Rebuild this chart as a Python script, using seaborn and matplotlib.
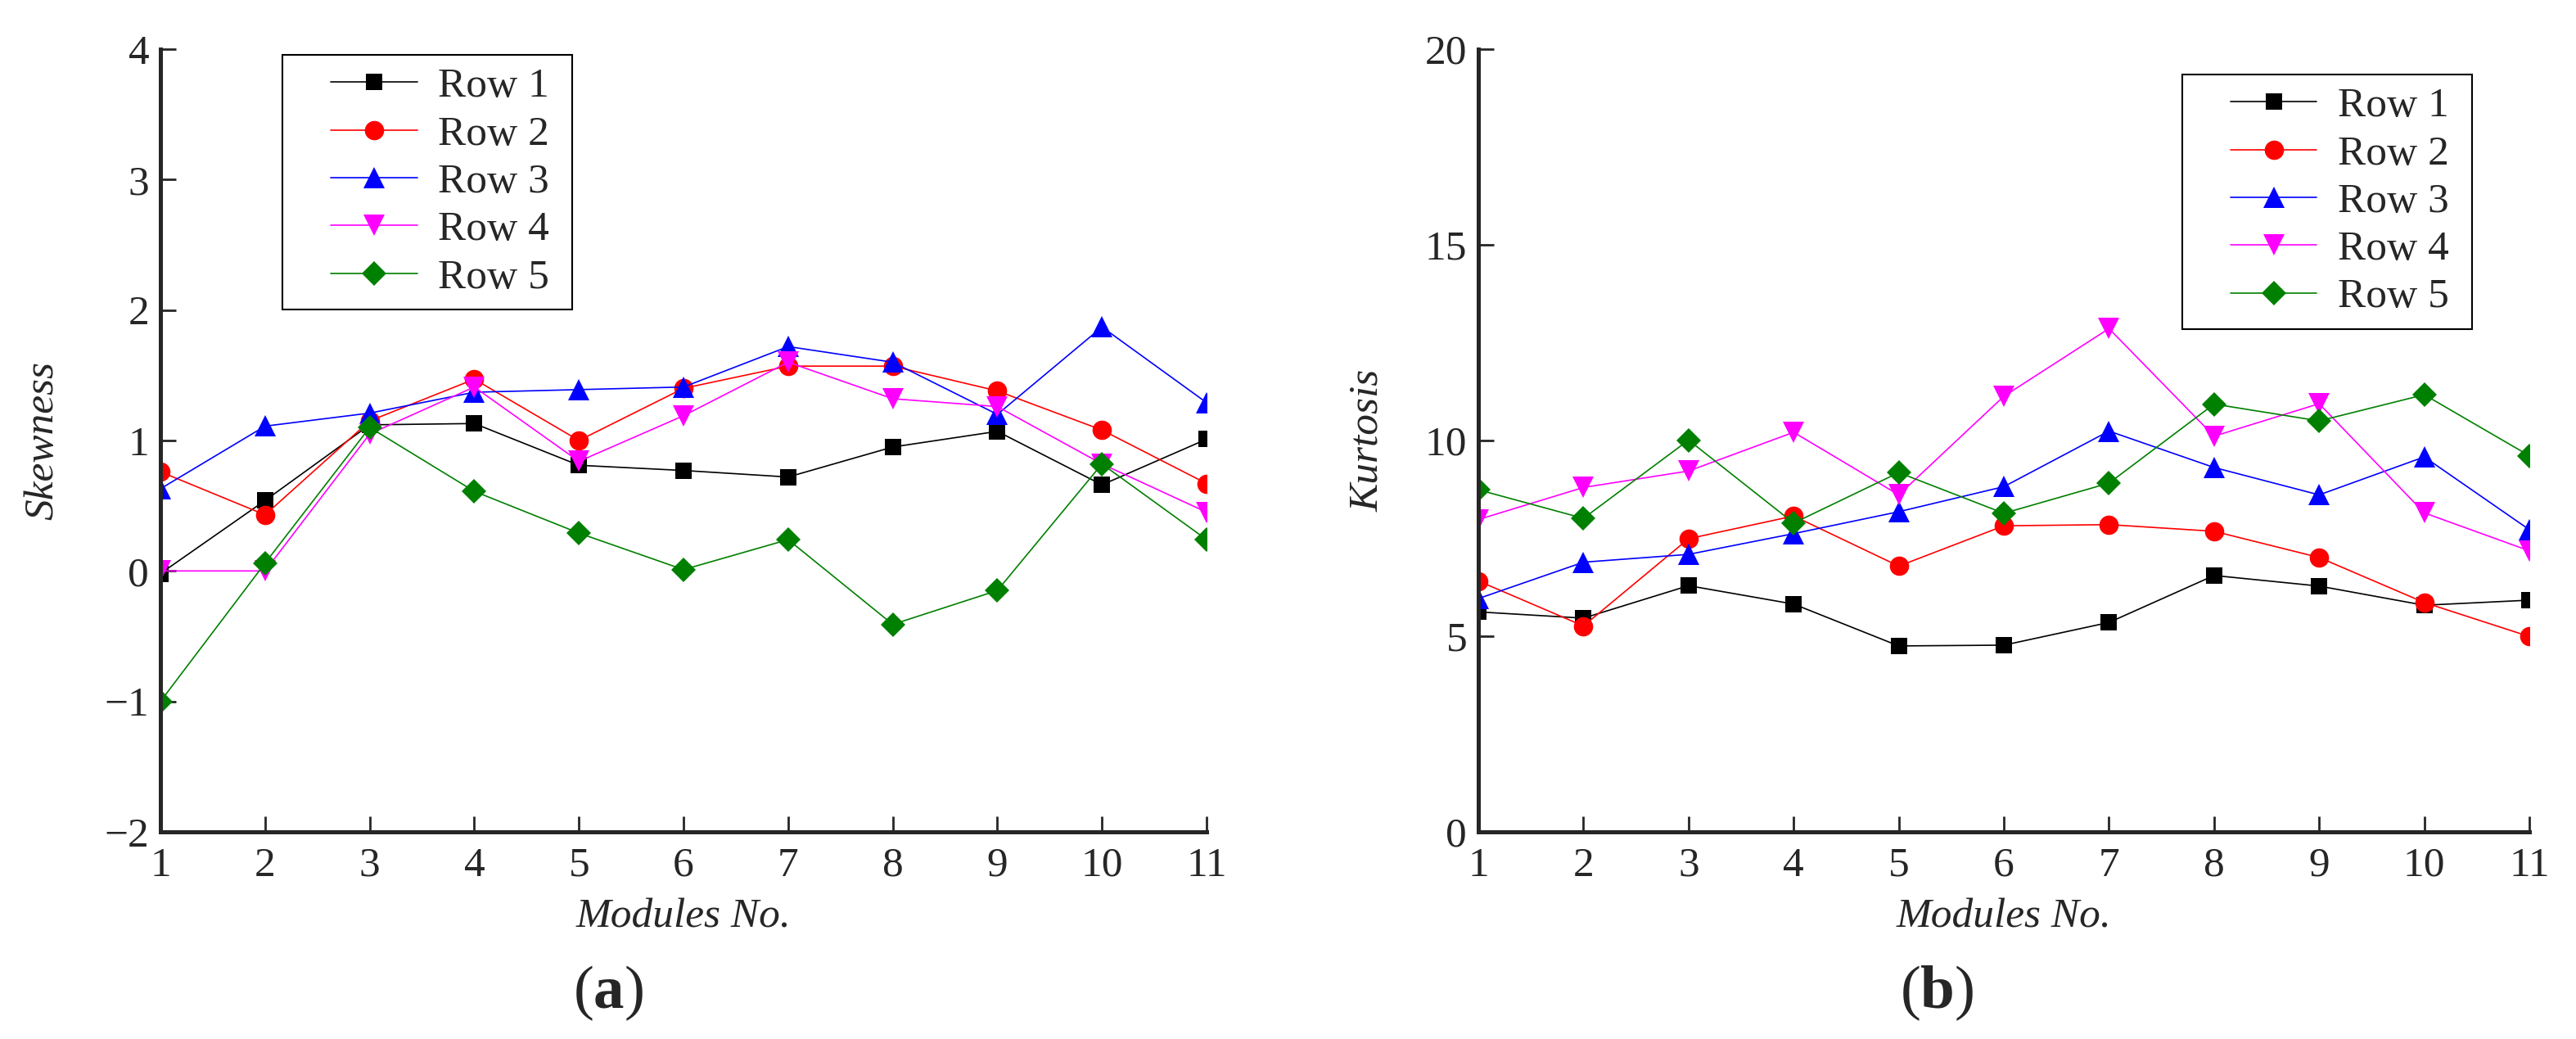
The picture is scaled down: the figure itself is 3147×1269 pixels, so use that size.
"""
Skewness / Kurtosis per module, rows 1-5
"""
import matplotlib
matplotlib.use('Agg')
import matplotlib.pyplot as plt
from matplotlib.lines import Line2D
from matplotlib.legend_handler import HandlerLine2D
import seaborn as sns
import pandas as pd

modules = list(range(1, 11 + 1))
rows = ['Row 1', 'Row 2', 'Row 3', 'Row 4', 'Row 5']

skew_row1 = [-0.02, 0.54, 1.12, 1.13, 0.81, 0.77, 0.72, 0.95, 1.07, 0.66, 1.01]
skew_row2 = [0.76, 0.43, 1.15, 1.47, 1.00, 1.40, 1.57, 1.57, 1.38, 1.08, 0.67]
skew_row3 = [0.63, 1.11, 1.21, 1.37, 1.39, 1.41, 1.72, 1.60, 1.20, 1.87, 1.29]
skew_row4 = [0.00, 0.00, 1.05, 1.41, 0.84, 1.19, 1.60, 1.32, 1.26, 0.82, 0.45]
skew_row5 = [-1.00, 0.06, 1.10, 0.61, 0.29, 0.01, 0.24, -0.41, -0.15, 0.82, 0.24]

kurt_row1 = [5.62, 5.46, 6.29, 5.82, 4.75, 4.77, 5.35, 6.55, 6.28, 5.79, 5.92]
kurt_row2 = [6.41, 5.26, 7.49, 8.07, 6.79, 7.82, 7.85, 7.68, 7.01, 5.86, 4.99]
kurt_row3 = [5.96, 6.89, 7.09, 7.62, 8.18, 8.82, 10.24, 9.31, 8.61, 9.58, 7.72]
kurt_row4 = [7.98, 8.80, 9.22, 10.21, 8.61, 11.13, 12.86, 10.11, 10.94, 8.15, 7.18]
kurt_row5 = [8.74, 8.01, 10.01, 7.89, 9.18, 8.14, 8.91, 10.93, 10.50, 11.17, 9.61]

colors = ['#000000', '#FF0000', '#0000FF', '#FF00FF', '#008000']
markers = ['s', 'o', '^', 'v', 'D']
msizes = [14.5, 17, 19, 19, 15]

sns.set_style('ticks')
plt.rcParams['font.family'] = ['Liberation Serif', 'DejaVu Serif']
plt.rcParams['mathtext.fontset'] = 'custom'
plt.rcParams['mathtext.rm'] = 'Liberation Serif'
plt.rcParams['mathtext.bf'] = 'Liberation Serif:bold'
plt.rcParams['axes.unicode_minus'] = True

FS = 37

fig = plt.figure(figsize=(31.47, 12.69), dpi=100)
ax1 = fig.add_axes([0.0623, 0.1994, 0.4061, 0.7533])
ax2 = fig.add_axes([0.5739, 0.1994, 0.4080, 0.7533])


def draw(ax, series, ylim, yticks, ylabel):
    for name, vals, c, m, ms in zip(rows, series, colors, markers, msizes):
        df = pd.DataFrame({'x': modules, 'y': vals})
        sns.lineplot(data=df, x='x', y='y', ax=ax, color=c, marker=m,
                     markersize=ms, markeredgewidth=0, linewidth=1.2,
                     label=name + ' ')
    ax.set_xlim(1, 11)
    ax.set_ylim(*ylim)
    ax.set_xticks(modules)
    ax.set_yticks(yticks)
    ax.tick_params(direction='in', length=14, width=2, labelsize=FS)
    ax.tick_params(axis='x', pad=13)
    ax.tick_params(axis='y', pad=10)
    for s in ['top', 'right']:
        ax.spines[s].set_visible(False)
    for s in ['left', 'bottom']:
        ax.spines[s].set_linewidth(3.6)
        ax.spines[s].set_zorder(5)
    ax.set_xlabel('Modules No.', fontsize=FS, style='italic')
    ax.set_ylabel(ylabel, fontsize=FS, style='italic')
    ax.xaxis.set_label_coords(0.5, -0.085)


draw(ax1, [skew_row1, skew_row2, skew_row3, skew_row4, skew_row5],
     (-2, 4), [-2, -1, 0, 1, 2, 3, 4], 'Skewness')
draw(ax2, [kurt_row1, kurt_row2, kurt_row3, kurt_row4, kurt_row5],
     (0, 20), [0, 5, 10, 15, 20], 'Kurtosis')

ax1.yaxis.set_label_coords(-0.0947, 0.5)
ax2.yaxis.set_label_coords(-0.087, 0.5)

# handle is shifted right inside the box, like the original legend
leg_kw = dict(fontsize=FS, fancybox=False, frameon=True, edgecolor='black',
              framealpha=1, borderaxespad=0, handlelength=2.9,
              handletextpad=0.5, labelspacing=0.22, borderpad=0.3,
              handler_map={Line2D: HandlerLine2D(xpad=0.85)})
l1 = ax1.legend(loc='upper left', bbox_to_anchor=(0.1166, 0.9927), **leg_kw)
l2 = ax2.legend(loc='upper right', bbox_to_anchor=(0.9455, 0.9676), **leg_kw)
for lg in (l1, l2):
    lg.get_frame().set_linewidth(1.5)

fig.text(0.236, 0.044, r'($\mathbf{a}$)', fontsize=54, ha='center', va='center')
fig.text(0.752, 0.044, r'($\mathbf{b}$)', fontsize=54, ha='center', va='center')

fig.savefig('out.png', dpi=100)
